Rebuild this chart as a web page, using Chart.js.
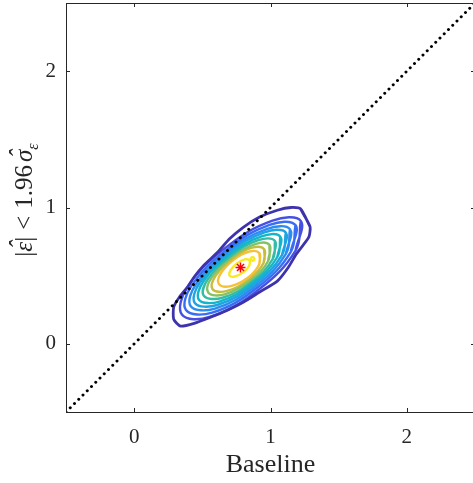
<!DOCTYPE html>
<html lang="en">
<head>
<meta charset="UTF-8">
<title>Baseline</title>
<script src="https://cdn.jsdelivr.net/npm/chart.js@4.4.1/dist/chart.umd.min.js"></script>
<style>
  html, body { margin: 0; padding: 0; background: #fff; overflow: hidden; }
  canvas { display: block; }
</style>
</head>
<body>
<canvas id="densityChart" width="476" height="483"></canvas>
<script>
// axis range and ticks
const axisMin = -0.5
const axisMax = 2.5
const xTicks = [0, 1, 2]
const yTicks = [0, 1, 2]

// y = x reference line
const diagX = [-0.5, 2.5]
const diagY = [-0.5, 2.5]

// density peak
const peak = [0.78, 0.56]

// contour lines, outermost level first, [x, y]
const level1 = [[1.22,0.99],[1.29,0.86],[1.28,0.78],[1.19,0.66],[1.13,0.56],[1.05,0.46],[0.92,0.38],[0.80,0.305],[0.68,0.245],[0.56,0.195],[0.44,0.15],[0.34,0.13],[0.29,0.18],[0.29,0.27],[0.33,0.34],[0.39,0.415],[0.44,0.49],[0.51,0.575],[0.61,0.67],[0.70,0.77],[0.80,0.855],[0.92,0.93],[1.05,0.98],[1.15,1.00]]
const level2 = [[1.222,0.902],[1.184,0.684],[0.908,0.394],[0.552,0.197],[0.35,0.215],[0.39,0.416],[0.669,0.704],[1.015,0.903]]
const level3 = [[1.183,0.871],[1.148,0.673],[0.897,0.408],[0.572,0.229],[0.38,0.248],[0.422,0.429],[0.679,0.691],[0.993,0.873]]
const level4 = [[1.143,0.841],[1.113,0.66],[0.887,0.421],[0.593,0.259],[0.415,0.276],[0.455,0.441],[0.688,0.679],[0.972,0.842]]
const level5 = [[1.112,0.816],[1.084,0.651],[0.878,0.433],[0.609,0.285],[0.445,0.3],[0.483,0.452],[0.696,0.668],[0.956,0.818]]
const level6 = [[1.072,0.786],[1.05,0.637],[0.87,0.444],[0.625,0.31],[0.475,0.324],[0.51,0.461],[0.704,0.658],[0.934,0.788]]
const level7 = [[1.033,0.755],[1.017,0.623],[0.862,0.454],[0.648,0.338],[0.511,0.353],[0.542,0.476],[0.712,0.648],[0.911,0.761]]
const level8 = [[0.993,0.725],[0.983,0.608],[0.854,0.464],[0.664,0.363],[0.543,0.377],[0.569,0.487],[0.719,0.639],[0.888,0.732]]
const level9 = [[0.954,0.694],[0.95,0.595],[0.846,0.475],[0.682,0.388],[0.575,0.401],[0.597,0.498],[0.726,0.63],[0.865,0.705]]
const level10 = [[0.918,0.667],[0.918,0.584],[0.836,0.487],[0.708,0.423],[0.622,0.438],[0.635,0.516],[0.734,0.62],[0.845,0.677]]
const level11 = [[0.848,0.612],[0.845,0.575],[0.804,0.528],[0.741,0.495],[0.701,0.499],[0.707,0.539],[0.756,0.592],[0.811,0.619]]
const level11b = [[0.865,0.61],[0.88,0.615],[0.88,0.63],[0.865,0.635],[0.855,0.622]]

const contours = [level1, level2, level3, level4, level5, level6, level7, level8, level9, level10, level11, level11b]
const levelColors = ['#3d33ad', '#4650e2', '#386ef5', '#2d8cf0', '#1ea4e0', '#12b6ca', '#35bca6', '#84c265', '#c6bd3e', '#f5c139', '#f8ea22', '#f8ea22']

const serif = '"Liberation Serif", "Times New Roman", serif'
const axisColor = '#262626'

// close each loop, repeating the first two points so the spline joins smoothly
function closedLoop(pts) {
    let out = pts.map(p => ({x: p[0], y: p[1]}))
    out.push({x: pts[0][0], y: pts[0][1]})
    out.push({x: pts[1][0], y: pts[1][1]})
    return out
}

let datasets = []

datasets.push({
    data: [{x: peak[0], y: peak[1]}],
    pointStyle: 'star',
    pointRadius: 5,
    borderColor: '#ff0000',
    borderWidth: 1.5,
    showLine: false,
    order: 0
})

datasets.push({
    data: diagX.map((x, i) => ({x: x, y: diagY[i]})),
    showLine: true,
    borderColor: '#000000',
    borderWidth: 3,
    borderDash: [0.01, 6],
    borderCapStyle: 'round',
    pointRadius: 0,
    order: 1
})

contours.forEach(function(pts, i) {
    datasets.push({
        data: closedLoop(pts),
        showLine: true,
        borderColor: levelColors[i],
        borderWidth: i === 0 ? 2.8 : 2.4,
        tension: i === 0 ? 0.2 : 0.4,
        pointRadius: 0,
        order: 2 + i
    })
})

// box, inward tick marks and the math y label
const framePlugin = {
    id: 'frame',
    afterDraw(chart) {
        const ctx = chart.ctx
        const a = chart.chartArea
        const xs = chart.scales.x
        const ys = chart.scales.y
        ctx.save()
        ctx.strokeStyle = axisColor
        ctx.lineWidth = 1
        ctx.strokeRect(a.left + 0.5, a.top + 0.5, a.right - a.left, a.bottom - a.top)
        ctx.beginPath()
        xTicks.forEach(function(v) {
            let px = Math.round(xs.getPixelForValue(v)) + 0.5
            ctx.moveTo(px, a.bottom); ctx.lineTo(px, a.bottom - 4)
            ctx.moveTo(px, a.top); ctx.lineTo(px, a.top + 4)
        })
        yTicks.forEach(function(v) {
            let py = Math.round(ys.getPixelForValue(v)) + 0.5
            ctx.moveTo(a.left, py); ctx.lineTo(a.left + 4, py)
            ctx.moveTo(a.right, py); ctx.lineTo(a.right - 4, py)
        })
        ctx.stroke()

        // |ε̂| < 1.96 σ̂_ε, rotated
        const parts = [
            {text: '|', font: '25px ' + serif, gap: 0},
            {text: 'ε', font: 'italic 25px ' + serif, gap: 0, hat: true},
            {text: '|', font: '25px ' + serif, gap: 7},
            {text: '<', font: '25px ' + serif, gap: 7},
            {text: '1.96', font: '25px ' + serif, gap: 3},
            {text: 'σ', font: 'italic 25px ' + serif, gap: 0, hat: true},
            {text: 'ε', font: 'italic 16px ' + serif, gap: 0, dy: 6}
        ]
        let total = 0
        parts.forEach(function(p) {
            ctx.font = p.font
            p.w = ctx.measureText(p.text).width
            total += p.w + p.gap
        })
        ctx.translate(22, 200)
        ctx.rotate(-Math.PI / 2)
        ctx.fillStyle = axisColor
        ctx.textBaseline = 'alphabetic'
        let u = -total / 2
        parts.forEach(function(p) {
            ctx.font = p.font
            ctx.textAlign = 'left'
            ctx.fillText(p.text, u, 10 + (p.dy || 0))
            if (p.hat) {
                ctx.textAlign = 'center'
                ctx.fillText('ˆ', u + p.w / 2 + 2, 5)
            }
            u += p.w + p.gap
        })
        ctx.restore()
    }
}

new Chart(document.getElementById('densityChart'), {
    type: 'scatter',
    data: {datasets: datasets},
    plugins: [framePlugin],
    options: {
        responsive: false,
        animation: false,
        layout: {autoPadding: false, padding: {top: 3, right: 1, left: 0, bottom: 0}},
        plugins: {legend: {display: false}, tooltip: {enabled: false}},
        scales: {
            x: {
                type: 'linear',
                min: axisMin,
                max: axisMax,
                grid: {display: false, drawTicks: false},
                border: {display: false},
                afterBuildTicks: s => { s.ticks = xTicks.map(v => ({value: v})) },
                afterFit: s => { s.height = 71; s.paddingLeft = 0; s.paddingRight = 0 },
                ticks: {
                    color: axisColor,
                    font: {family: serif, size: 21},
                    padding: 13,
                    maxRotation: 0
                },
                title: {
                    display: true,
                    text: 'Baseline',
                    color: axisColor,
                    font: {family: serif, size: 26},
                    padding: {top: 0, bottom: 2}
                }
            },
            y: {
                type: 'linear',
                min: axisMin,
                max: axisMax,
                grid: {display: false, drawTicks: false},
                border: {display: false},
                afterBuildTicks: s => { s.ticks = yTicks.map(v => ({value: v})) },
                afterFit: s => { s.width = 66; s.paddingTop = 0; s.paddingBottom = 0 },
                ticks: {
                    color: axisColor,
                    font: {family: serif, size: 21},
                    padding: 10
                }
            }
        }
    }
})
</script>
</body>
</html>
